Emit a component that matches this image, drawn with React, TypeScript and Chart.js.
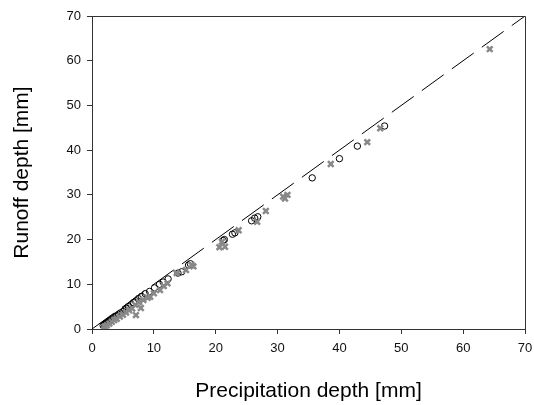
import React, { useEffect, useRef } from "react";
import { Chart, registerables } from "chart.js";

Chart.register(...registerables);

const circleX = [1.8, 2.0, 2.2, 2.4, 2.6, 2.8, 3.0, 3.2, 3.5, 3.8, 4.0, 4.3, 4.6, 5.0, 5.3, 5.6, 5.9, 6.3, 6.7, 7.1, 7.5, 8.0, 8.6, 9.3, 10.1, 10.9, 11.5, 12.3, 13.9, 14.5, 15.6, 15.9, 21.2, 21.4, 22.7, 23.1, 25.8, 26.3, 26.8, 35.6, 40.0, 42.9, 47.3];
const circleY = [0.8, 1.0, 1.2, 1.4, 1.6, 1.8, 2.0, 2.2, 2.5, 2.8, 3.0, 3.3, 3.6, 3.9, 4.3, 4.6, 5.0, 5.4, 5.9, 6.3, 6.8, 7.3, 7.9, 8.4, 9.2, 10.0, 10.5, 11.2, 12.5, 12.8, 14.3, 14.6, 19.8, 20.0, 21.2, 21.5, 24.2, 24.8, 25.1, 33.8, 38.1, 40.9, 45.4];

const crossX = [2.0, 2.4, 2.8, 3.2, 3.6, 4.0, 4.5, 5.0, 5.5, 6.0, 6.5, 7.1, 7.9, 7.0, 7.6, 8.3, 9.0, 9.4, 10.0, 11.0, 11.6, 12.2, 13.7, 15.2, 16.1, 16.4, 20.6, 21.5, 21.0, 23.7, 26.7, 28.1, 30.9, 31.6, 31.2, 38.6, 44.5, 46.6, 64.3];
const crossY = [0.5, 0.8, 1.2, 1.6, 2.0, 2.3, 2.8, 3.2, 3.7, 4.2, 4.6, 3.1, 4.7, 5.4, 6.0, 6.5, 7.0, 7.2, 8.0, 8.7, 9.6, 10.2, 12.5, 13.2, 14.3, 14.0, 18.3, 18.4, 19.5, 22.1, 24.0, 26.4, 29.6, 30.0, 29.2, 36.9, 41.8, 44.9, 62.6];

const lineX = [0, 70];
const lineY = [0, 70];

const xTitle = "Precipitation depth [mm]";
const yTitle = "Runoff depth [mm]";
const axisMin = 0;
const axisMax = 70;
const tickStep = 10;

const zip = (xs: number[], ys: number[]) => xs.map((x, i) => ({ x, y: ys[i] }));

const boxPlugin = {
  id: "boxPlugin",
  afterDatasetsDraw(chart: any) {
    const { ctx, chartArea } = chart;
    ctx.save();
    ctx.strokeStyle = "#333";
    ctx.lineWidth = 1;
    ctx.beginPath();
    ctx.moveTo(chartArea.left, chartArea.top + 0.5);
    ctx.lineTo(chartArea.right + 0.5, chartArea.top + 0.5);
    ctx.lineTo(chartArea.right + 0.5, chartArea.bottom);
    ctx.stroke();
    ctx.restore();
  },
};

export default function App() {
  const ref = useRef<HTMLCanvasElement>(null);
  useEffect(() => {
    document.body.style.margin = "0";
    const font = "'Liberation Sans', Arial, sans-serif";
    const chart = new Chart(ref.current!, {
      type: "scatter",
      data: {
        datasets: [
          {
            label: "line",
            data: zip(lineX, lineY),
            showLine: true,
            borderColor: "#000",
            borderWidth: 1,
            borderDash: [27, 10],
            pointRadius: 0,
            fill: false,
          },
          {
            label: "cross",
            data: zip(crossX, crossY),
            pointStyle: "crossRot",
            pointRadius: 4,
            borderColor: "#888",
            backgroundColor: "#888",
            borderWidth: 2.5,
          },
          {
            label: "circle",
            data: zip(circleX, circleY),
            pointStyle: "circle",
            pointRadius: 3.2,
            borderColor: "#000",
            backgroundColor: "rgba(0,0,0,0)",
            borderWidth: 1,
          },
        ],
      },
      options: {
        animation: false,
        responsive: false,
        layout: { padding: { top: 16, right: 9, left: 0, bottom: 0 } },
        plugins: { legend: { display: false }, tooltip: { enabled: false } },
        scales: {
          x: {
            type: "linear",
            min: axisMin,
            max: axisMax,
            afterFit: (s: any) => { s.height = 76; s.paddingRight = 0; s.paddingLeft = 0; },
            ticks: { stepSize: tickStep, color: "#111", font: { family: font, size: 13 }, padding: 7, maxRotation: 0 },
            grid: { display: true, drawOnChartArea: false, drawTicks: true, tickLength: 5, color: "#333" },
            border: { display: true, color: "#333" },
            title: { display: true, text: xTitle, color: "#000", font: { family: font, size: 21 }, padding: { top: 10, bottom: 1 } },
          },
          y: {
            type: "linear",
            min: axisMin,
            max: axisMax,
            afterFit: (s: any) => { s.width = 92; s.paddingTop = 0; s.paddingBottom = 0; },
            ticks: { stepSize: tickStep, color: "#111", font: { family: font, size: 13 }, padding: 6 },
            grid: { display: true, drawOnChartArea: false, drawTicks: true, tickLength: 5, color: "#333" },
            border: { display: true, color: "#333" },
            title: { display: true, text: yTitle, color: "#000", font: { family: font, size: 21 }, padding: { top: 10, bottom: 0 } },
          },
        },
      },
      plugins: [boxPlugin],
    });
    return () => chart.destroy();
  }, []);
  return (
    <div style={{ width: 534, height: 405 }}>
      <canvas ref={ref} width={534} height={405} style={{ width: 534, height: 405 }} />
    </div>
  );
}
